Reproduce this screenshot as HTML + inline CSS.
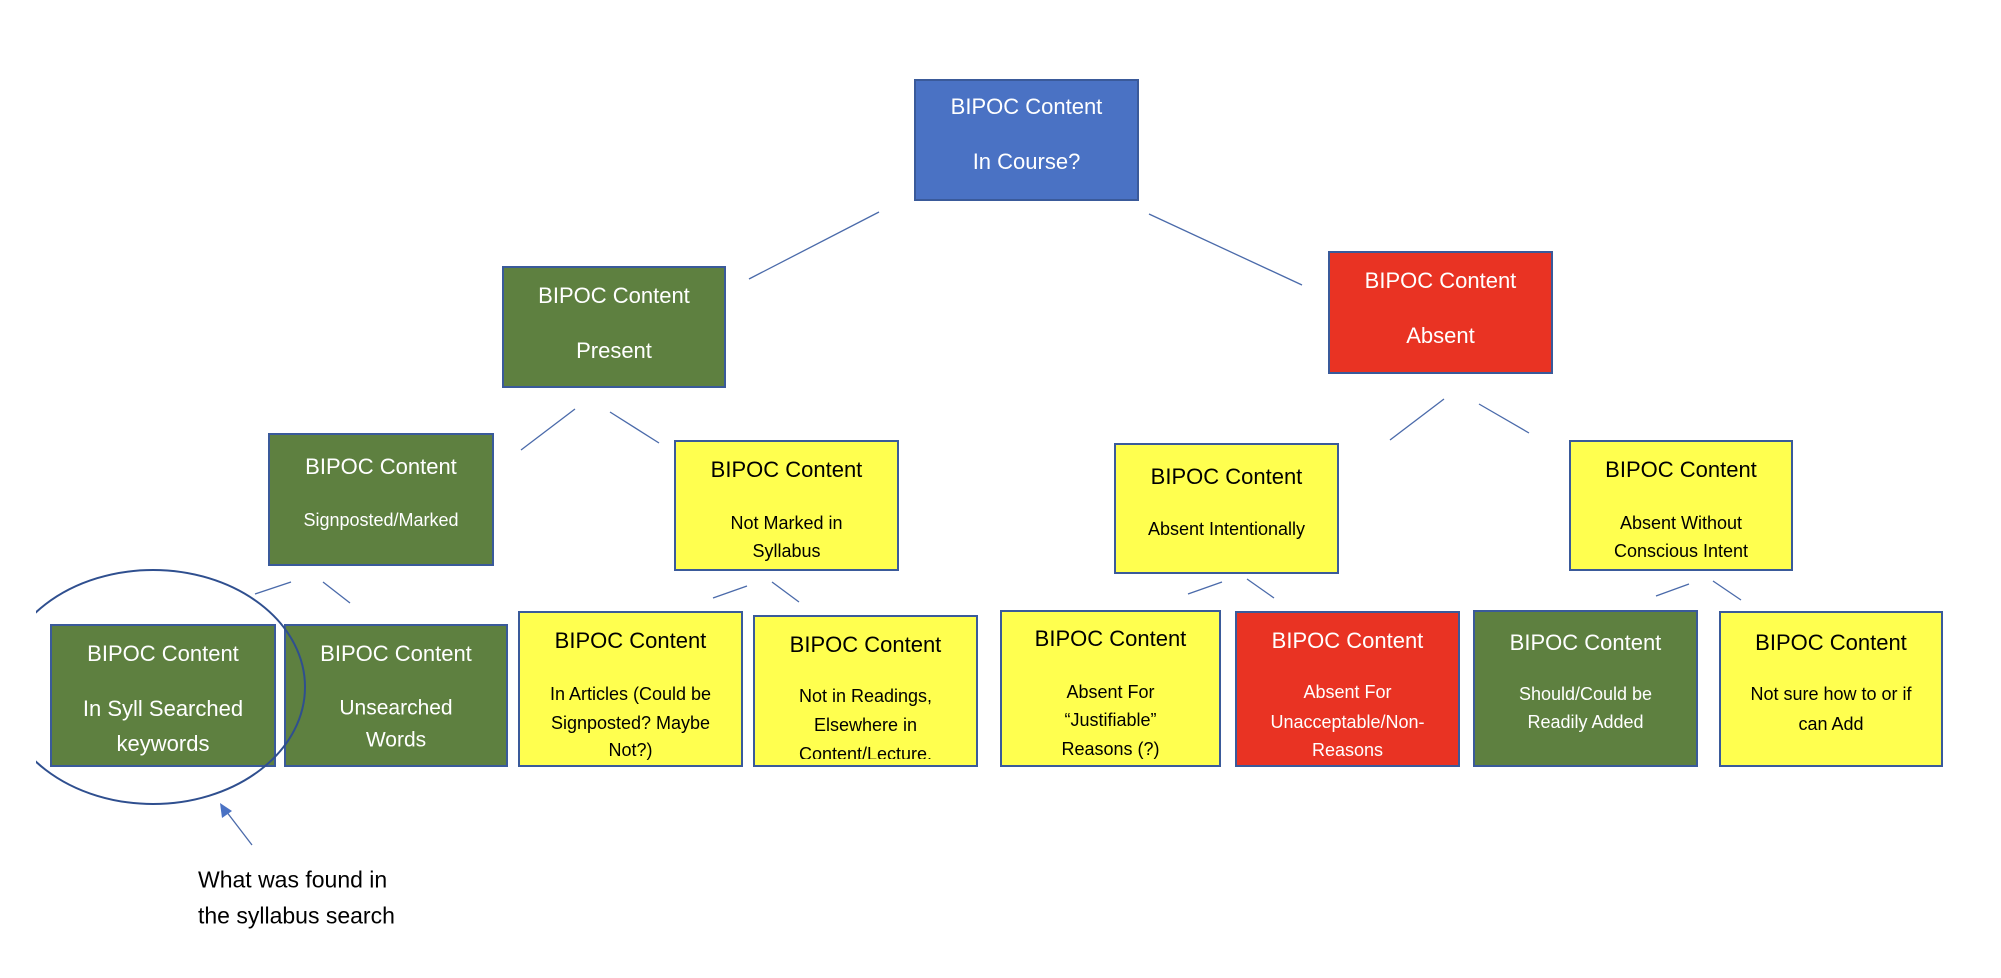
<!DOCTYPE html>
<html><head><meta charset="utf-8"><style>
body{margin:0;width:2001px;height:978px;background:#fff;position:relative;overflow:hidden;font-family:"Liberation Sans",sans-serif}
.b{position:absolute;box-sizing:border-box;border:2px solid #3a5a9a;overflow:hidden}
.g{background:#5e8040;color:#fff}.y{background:#ffff4f;color:#000}.r{background:#e93323;color:#fff}.u{background:#4a72c4;color:#fff}
.t{position:absolute;left:0;right:0;text-align:center;transform:translateY(-50%);white-space:nowrap;line-height:1}
.L{font-size:22px}.S{font-size:18px}.M{font-size:21px}
svg{position:absolute;left:0;top:0}
.n{position:absolute;left:198px;font-size:23px;color:#000;transform:translateY(-50%);white-space:nowrap}
</style></head><body>
<svg width="2001" height="978">
<g stroke="#4a6aaa" stroke-width="1.3" fill="none">
<line x1="879" y1="212" x2="749" y2="279"/>
<line x1="1149" y1="214" x2="1302" y2="285"/>
<line x1="575" y1="409" x2="521" y2="450"/>
<line x1="610" y1="412" x2="659" y2="443"/>
<line x1="1444" y1="399" x2="1390" y2="440"/>
<line x1="1479" y1="404" x2="1529" y2="433"/>
<line x1="291" y1="582" x2="255" y2="594"/>
<line x1="323" y1="582" x2="350" y2="603"/>
<line x1="747" y1="586" x2="713" y2="598"/>
<line x1="772" y1="582" x2="799" y2="602"/>
<line x1="1222" y1="582" x2="1188" y2="594"/>
<line x1="1247" y1="579" x2="1274" y2="598"/>
<line x1="1689" y1="584" x2="1656" y2="596"/>
<line x1="1713" y1="581" x2="1741" y2="600"/>
<line x1="252" y1="845" x2="226" y2="811"/>
</g>
<polygon points="220,803 222,818 232,811" fill="#4a72c4"/>
</svg>

<div class="b u" style="left:914px;top:79px;width:225px;height:122px"><div class="t L" style="top:26px">BIPOC Content</div><div class="t L" style="top:81px">In Course?</div></div>

<div class="b g" style="left:502px;top:266px;width:224px;height:122px"><div class="t L" style="top:28px">BIPOC Content</div><div class="t L" style="top:83px">Present</div></div>
<div class="b r" style="left:1328px;top:251px;width:225px;height:123px"><div class="t L" style="top:28px">BIPOC Content</div><div class="t L" style="top:83px">Absent</div></div>

<div class="b g" style="left:268px;top:433px;width:226px;height:133px"><div class="t L" style="top:32px">BIPOC Content</div><div class="t S" style="top:85px">Signposted/Marked</div></div>
<div class="b y" style="left:674px;top:440px;width:225px;height:131px"><div class="t L" style="top:28px">BIPOC Content</div><div class="t S" style="top:81px">Not Marked in</div><div class="t S" style="top:109px">Syllabus</div></div>
<div class="b y" style="left:1114px;top:443px;width:225px;height:131px"><div class="t L" style="top:32px">BIPOC Content</div><div class="t S" style="top:84px">Absent Intentionally</div></div>
<div class="b y" style="left:1569px;top:440px;width:224px;height:131px"><div class="t L" style="top:28px">BIPOC Content</div><div class="t S" style="top:81px">Absent Without</div><div class="t S" style="top:109px">Conscious Intent</div></div>

<div class="b g" style="left:50px;top:624px;width:226px;height:143px"><div class="t L" style="top:28px">BIPOC Content</div><div class="t L" style="top:83px">In Syll Searched</div><div class="t L" style="top:118px">keywords</div></div>
<div class="b g" style="left:284px;top:624px;width:224px;height:143px"><div class="t L" style="top:28px">BIPOC Content</div><div class="t M" style="top:82px">Unsearched</div><div class="t M" style="top:114px">Words</div></div>
<div class="b y" style="left:518px;top:611px;width:225px;height:156px"><div class="t L" style="top:28px">BIPOC Content</div><div class="t S" style="top:81px">In Articles (Could be</div><div class="t S" style="top:110px">Signposted? Maybe</div><div class="t S" style="top:137px">Not?)</div></div>
<div class="b y" style="left:753px;top:615px;width:225px;height:152px"><div style="position:absolute;left:0;right:0;top:0;height:142px;overflow:hidden"><div class="t L" style="top:28px">BIPOC Content</div><div class="t S" style="top:79px">Not in Readings,</div><div class="t S" style="top:108px">Elsewhere in</div><div class="t S" style="top:137px">Content/Lecture.</div></div></div>
<div class="b y" style="left:1000px;top:610px;width:221px;height:157px"><div class="t L" style="top:27px">BIPOC Content</div><div class="t S" style="top:80px">Absent For</div><div class="t S" style="top:108px">“Justifiable”</div><div class="t S" style="top:137px">Reasons (?)</div></div>
<div class="b r" style="left:1235px;top:611px;width:225px;height:156px"><div class="t L" style="top:28px">BIPOC Content</div><div class="t S" style="top:79px">Absent For</div><div class="t S" style="top:109px">Unacceptable/Non-</div><div class="t S" style="top:137px">Reasons</div></div>
<div class="b g" style="left:1473px;top:610px;width:225px;height:157px"><div class="t L" style="top:31px">BIPOC Content</div><div class="t S" style="top:82px">Should/Could be</div><div class="t S" style="top:110px">Readily Added</div></div>
<div class="b y" style="left:1719px;top:611px;width:224px;height:156px"><div class="t L" style="top:30px">BIPOC Content</div><div class="t S" style="top:81px">Not sure how to or if</div><div class="t S" style="top:111px">can Add</div></div>

<svg width="2001" height="978" style="pointer-events:none">
<defs><clipPath id="c"><rect x="36" y="0" width="2000" height="978"/></clipPath></defs>
<ellipse cx="153" cy="687" rx="152" ry="117" fill="none" stroke="#2f4f8f" stroke-width="2" clip-path="url(#c)"/>
</svg>

<div class="n" style="top:880px">What was found in</div>
<div class="n" style="top:916px">the syllabus search</div>
</body></html>
